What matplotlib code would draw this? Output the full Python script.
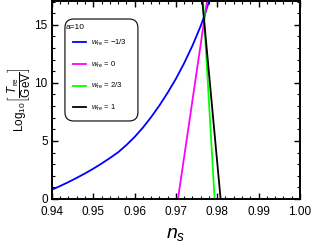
import matplotlib
matplotlib.use("Agg")
import matplotlib.pyplot as plt
from matplotlib.ticker import MultipleLocator, FormatStrFormatter
from matplotlib.patches import FancyBboxPatch

plt.rcParams['font.family'] = ['Liberation Sans', 'DejaVu Sans']
plt.rcParams['mathtext.fontset'] = 'custom'
plt.rcParams['mathtext.rm'] = 'Liberation Sans'
plt.rcParams['mathtext.it'] = 'Liberation Sans:italic'

# data
ns_m13 = [0.940, 0.942, 0.944, 0.946, 0.948, 0.950, 0.952, 0.954, 0.956, 0.958,
          0.960, 0.962, 0.964, 0.966, 0.968, 0.970, 0.972, 0.974, 0.976, 0.977,
          0.978, 0.979]
T_m13 = [0.80, 1.12, 1.46, 1.82, 2.20, 2.61, 3.05, 3.52, 4.02, 4.64,
         5.34, 6.14, 7.05, 8.05, 9.15, 10.35, 11.70, 13.20, 14.90, 15.90,
         17.00, 18.20]
ns_0 = [0.9705, 0.9776]
T_0 = [0.0, 17.2]
ns_23 = [0.97937, 0.97655]
T_23 = [0.0, 17.2]
ns_1 = [0.98082, 0.97635]
T_1 = [0.0, 17.2]

legend_title = "a=10"
labels = [r"$w_{\rm re}$ = $-$1/3", r"$w_{\rm re}$ = 0", r"$w_{\rm re}$ = 2/3", r"$w_{\rm re}$ = 1"]
colors = ["#0000ff", "#ff00ff", "#00ff00", "#000000"]

fig = plt.figure(figsize=(3.13, 2.48), dpi=100)
ax = fig.add_axes([0.166, 0.1976, 0.792, 0.7984])

for xs, ys, lab, c in zip([ns_m13, ns_0, ns_23, ns_1], [T_m13, T_0, T_23, T_1], labels, colors):
    ax.plot(xs, ys, color=c, lw=1.3, label=lab)

ax.set_xlim(0.94, 1.00)
ax.set_ylim(0, 17.05)
ax.xaxis.set_major_locator(MultipleLocator(0.01))
ax.xaxis.set_minor_locator(MultipleLocator(0.002))
ax.yaxis.set_major_locator(MultipleLocator(5))
ax.yaxis.set_minor_locator(MultipleLocator(1))
ax.xaxis.set_major_formatter(FormatStrFormatter('%.2f'))
ax.tick_params(which='both', direction='in', top=True, right=True, labelsize=8.5)
ax.tick_params(axis='x', pad=5)
ax.tick_params(axis='y', pad=3)
ax.tick_params(which='major', length=4, width=1)
ax.tick_params(which='minor', length=2, width=0.8)
for s in ax.spines.values():
    s.set_linewidth(1.4)

ax.set_xlabel(r"$n_s$", fontsize=14, labelpad=6)
ax.set_ylabel(r"Log$_{10}\left[\dfrac{T_{\rm re}}{\rm GeV}\right]$", fontsize=8.5, labelpad=1)

# legend frame (rounded box) drawn separately
frame = FancyBboxPatch((0.0524, 0.394), 0.2944, 0.515,
                       boxstyle="round,pad=0,rounding_size=0.035",
                       mutation_aspect=248 / 198,
                       transform=ax.transAxes, facecolor='white', edgecolor='black',
                       linewidth=0.8, zorder=4)
ax.add_patch(frame)
ax.text(0.057, 0.864, legend_title, transform=ax.transAxes, fontsize=6,
        ha='left', va='center', zorder=6)
leg = ax.legend(loc='upper left', bbox_to_anchor=(0.083, 0.815),
                fontsize=5.5, frameon=False,
                handlelength=1.75, labelspacing=1.52, borderpad=0, handletextpad=0.65,
                borderaxespad=0)
leg.set_zorder(6)

fig.savefig("out.png", dpi=100)
